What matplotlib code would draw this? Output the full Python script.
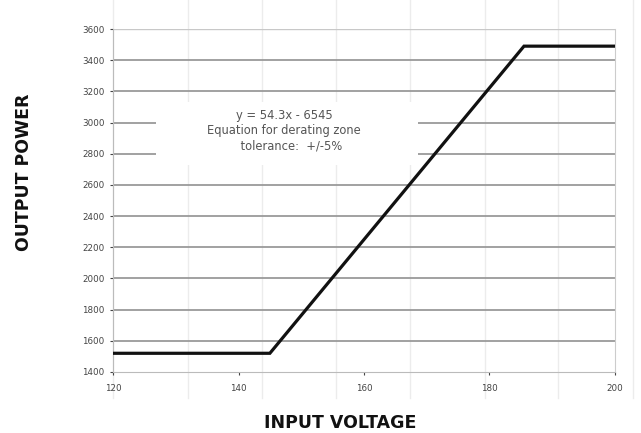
import matplotlib
matplotlib.use('agg')
from matplotlib import pyplot as plt
from matplotlib.lines import Line2D
from matplotlib.patches import Rectangle

# derating curve: flat, linear ramp, flat
voltage = [120, 145, 185.5, 200]
power = [1520, 1520, 3490, 3490]

x_ticks = [120, 140, 160, 180, 200]
y_ticks = [1400, 1600, 1800, 2000, 2200, 2400, 2600, 2800, 3000, 3200, 3400, 3600]

note_lines = ['y = 54.3x - 6545', 'Equation for derating zone', '    tolerance:  +/-5%']

fig = plt.figure(figsize=(6.41, 4.33), dpi=100)

# faint sheet cell lines behind the chart
for fx in [0.176, 0.293, 0.409, 0.524, 0.640, 0.757, 0.871, 0.988]:
    fig.add_artist(Line2D([fx, fx], [0.08, 1.0], color='#ececec', lw=1.0, zorder=0))

ax = fig.add_axes([0.1763, 0.1409, 0.7831, 0.7921])
ax.set_facecolor('none')
ax.set_xlim(120, 200)
ax.set_ylim(1400, 3600)

for yv in y_ticks[1:-1]:
    ax.axhline(yv, color='#9a9a9a', lw=1.3, zorder=1)
ax.axhline(y_ticks[-1], color='#c8c8c8', lw=1.0, zorder=1)

ax.plot(voltage, power, color='#111111', lw=2.3, solid_joinstyle='miter', zorder=4)

# white box behind the equation text
ax.add_patch(Rectangle((126.8, 2730), 41.8, 400, facecolor='white', edgecolor='none', zorder=2))
ax.text(147.3, 2950, '\n'.join(note_lines), ha='center', va='center', fontsize=8.3,
        color='#555555', linespacing=1.22, zorder=3)

ax.set_xticks(x_ticks)
ax.set_yticks(y_ticks)
ax.tick_params(axis='both', labelsize=6.3, colors='#444444', length=2.5, width=0.8)
ax.tick_params(axis='x', pad=6)
ax.spines['top'].set_visible(False)
ax.spines['left'].set_color('#bbbbbb')
ax.spines['right'].set_color('#cccccc')
ax.spines['bottom'].set_color('#bbbbbb')

fig.text(0.037, 0.603, 'OUTPUT POWER', rotation=90, ha='center', va='center',
         fontsize=12.5, fontweight='bold', color='#111111')
fig.text(0.530, 0.022, 'INPUT VOLTAGE', ha='center', va='center',
         fontsize=12.5, fontweight='bold', color='#111111')

fig.savefig('out.png', dpi=100)
